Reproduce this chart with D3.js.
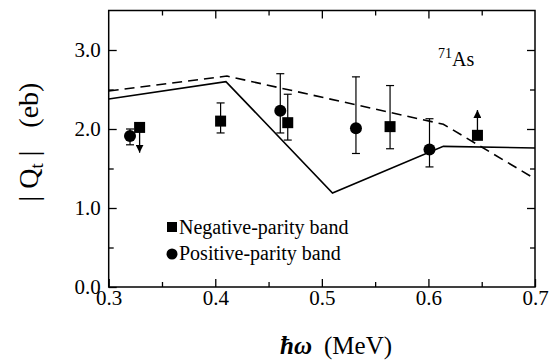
<!DOCTYPE html>
<html>
<head>
<meta charset="utf-8">
<script src="https://cdn.jsdelivr.net/npm/d3@7"></script>
<style>
  body { margin: 0; background: #fff; }
  svg { display: block; }
  svg text { font-family: "Liberation Serif", "Times New Roman", serif; fill: #000; white-space: pre; }
</style>
</head>
<body>
<div id="chart"></div>
<script>
// negative-parity band (squares)
const negX = [0.329, 0.405, 0.468, 0.564, 0.646];
const negY = [2.02, 2.10, 2.08, 2.03, 1.92];
const negLo = [null, 1.95, 1.86, 1.75, null];
const negHi = [null, 2.33, 2.44, 2.55, null];
const negLimit = [1.70, null, null, null, 2.24]; // arrow tips for limits

// positive-parity band (circles)
const posX = [0.320, 0.461, 0.532, 0.601];
const posY = [1.91, 2.23, 2.01, 1.74];
const posLo = [1.80, 1.95, 1.69, 1.52];
const posHi = [2.00, 2.70, 2.66, 2.13];

// calculations
const solidX = [0.3, 0.41, 0.51, 0.614, 0.7];
const solidY = [2.38, 2.60, 1.19, 1.78, 1.76];
const dashX = [0.3, 0.411, 0.614, 0.7];
const dashY = [2.48, 2.67, 2.06, 1.37];

const xTicks = [0.3, 0.4, 0.5, 0.6, 0.7];
const xMinor = [0.35, 0.45, 0.55, 0.65];
const yTicks = [0, 1, 2, 3];
const yMinor = [0.5, 1.5, 2.5];

const width = 550, height = 360;
const mLeft = 108.7, mRight = 535, mTop = 10.5, mBottom = 287;

const x = d3.scaleLinear().domain([0.3, 0.7]).range([mLeft, mRight]);
const y = d3.scaleLinear().domain([0, 3.5]).range([mBottom, mTop]);

const svg = d3.select('#chart').append('svg')
  .attr('width', width).attr('height', height);

svg.append('defs').append('marker')
  .attr('id', 'head')
  .attr('viewBox', '0 0 10 10')
  .attr('refX', 10).attr('refY', 5)
  .attr('markerWidth', 8).attr('markerHeight', 8)
  .attr('markerUnits', 'userSpaceOnUse')
  .attr('orient', 'auto')
  .append('path').attr('d', 'M0,0L10,5L0,10Z').attr('fill', '#000');

// axes (ticks point inward)
function styleAxis(g) {
  g.select('.domain').remove();
  g.selectAll('line').attr('stroke', '#000').attr('stroke-width', 1.3);
  g.selectAll('text').attr('font-size', 21)
    .style('font-family', '"Liberation Serif", "Times New Roman", serif');
}

svg.append('g').attr('transform', `translate(0,${mBottom})`)
  .call(d3.axisBottom(x).tickValues(xTicks).tickSize(-8).tickPadding(3).tickFormat(d3.format('.1f')))
  .call(styleAxis);
svg.append('g').attr('transform', `translate(0,${mBottom})`)
  .call(d3.axisBottom(x).tickValues(xMinor).tickSize(-5).tickFormat(''))
  .call(styleAxis);
svg.append('g').attr('transform', `translate(0,${mTop})`)
  .call(d3.axisTop(x).tickValues(xTicks.slice(1, -1)).tickSize(-8).tickFormat(''))
  .call(styleAxis);
svg.append('g').attr('transform', `translate(0,${mTop})`)
  .call(d3.axisTop(x).tickValues(xMinor).tickSize(-5).tickFormat(''))
  .call(styleAxis);

svg.append('g').attr('transform', `translate(${mLeft},0)`)
  .call(d3.axisLeft(y).tickValues(yTicks).tickSize(-8).tickPadding(8).tickFormat(d3.format('.1f')))
  .call(styleAxis);
svg.append('g').attr('transform', `translate(${mLeft},0)`)
  .call(d3.axisLeft(y).tickValues(yMinor).tickSize(-5).tickFormat(''))
  .call(styleAxis);
svg.append('g').attr('transform', `translate(${mRight},0)`)
  .call(d3.axisRight(y).tickValues(yTicks.slice(1)).tickSize(-8).tickFormat(''))
  .call(styleAxis);
svg.append('g').attr('transform', `translate(${mRight},0)`)
  .call(d3.axisRight(y).tickValues(yMinor).tickSize(-5).tickFormat(''))
  .call(styleAxis);

svg.append('rect')
  .attr('x', mLeft).attr('y', mTop)
  .attr('width', mRight - mLeft).attr('height', mBottom - mTop)
  .attr('fill', 'none').attr('stroke', '#000').attr('stroke-width', 1.5);

// theory curves
const line = d3.line().x(d => x(d[0])).y(d => y(d[1]));
svg.append('path')
  .datum(d3.zip(solidX, solidY))
  .attr('d', line)
  .attr('fill', 'none').attr('stroke', '#000').attr('stroke-width', 1.6);
svg.append('path')
  .datum(d3.zip(dashX, dashY))
  .attr('d', line)
  .attr('fill', 'none').attr('stroke', '#000').attr('stroke-width', 1.6)
  .attr('stroke-dasharray', '10,6');

// error bars
const cap = 4;
function errBars(xs, lo, hi) {
  const d = xs.map((v, i) => ({ x: v, lo: lo[i], hi: hi[i] })).filter(e => e.lo != null);
  const g = svg.append('g').attr('stroke', '#000').attr('stroke-width', 1.2);
  g.selectAll('.bar').data(d).enter().append('line')
    .attr('x1', e => x(e.x)).attr('x2', e => x(e.x))
    .attr('y1', e => y(e.lo)).attr('y2', e => y(e.hi));
  g.selectAll('.capl').data(d).enter().append('line')
    .attr('x1', e => x(e.x) - cap).attr('x2', e => x(e.x) + cap)
    .attr('y1', e => y(e.lo)).attr('y2', e => y(e.lo));
  g.selectAll('.caph').data(d).enter().append('line')
    .attr('x1', e => x(e.x) - cap).attr('x2', e => x(e.x) + cap)
    .attr('y1', e => y(e.hi)).attr('y2', e => y(e.hi));
}
errBars(negX, negLo, negHi);
errBars(posX, posLo, posHi);

// limit arrows
const lims = negX.map((v, i) => ({ x: v, y: negY[i], to: negLimit[i] })).filter(e => e.to != null);
svg.selectAll('.lim').data(lims).enter().append('line')
  .attr('x1', e => x(e.x)).attr('x2', e => x(e.x))
  .attr('y1', e => y(e.y)).attr('y2', e => y(e.to))
  .attr('stroke', '#000').attr('stroke-width', 1.3)
  .attr('marker-end', 'url(#head)');

// markers
const sq = 11;
svg.selectAll('.neg').data(d3.zip(negX, negY)).enter().append('rect')
  .attr('x', d => x(d[0]) - sq / 2).attr('y', d => y(d[1]) - sq / 2)
  .attr('width', sq).attr('height', sq).attr('fill', '#000');
svg.selectAll('.pos').data(d3.zip(posX, posY)).enter().append('circle')
  .attr('cx', d => x(d[0])).attr('cy', d => y(d[1]))
  .attr('r', 6).attr('fill', '#000');

// legend
svg.append('rect').attr('x', 167).attr('y', 222).attr('width', 10).attr('height', 10).attr('fill', '#000');
svg.append('text').attr('x', 179).attr('y', 234).attr('font-size', 20).text('Negative-parity band');
svg.append('circle').attr('cx', 172).attr('cy', 254).attr('r', 5.5).attr('fill', '#000');
svg.append('text').attr('x', 179).attr('y', 260).attr('font-size', 20).text('Positive-parity band');

// nucleus label
const nuc = svg.append('text').attr('x', 438).attr('y', 66).attr('font-size', 20);
nuc.append('tspan').attr('font-size', 14).attr('dy', -8).text('71');
nuc.append('tspan').attr('dy', 8).text('As');

// axis titles
const yl = svg.append('text')
  .attr('transform', 'translate(38,142) rotate(-90)')
  .attr('text-anchor', 'middle').attr('font-size', 28);
yl.append('tspan').text('| Q');
yl.append('tspan').attr('font-size', 19).attr('dy', 5).text('t');
yl.append('tspan').attr('dy', -5).text(' |');
yl.append('tspan').attr('dx', 23).text('(eb)');

const xl = svg.append('text')
  .attr('x', 336).attr('y', 354)
  .attr('text-anchor', 'middle').attr('font-size', 25);
xl.append('tspan').attr('font-style', 'italic').attr('font-weight', 'bold').text('ħ');
xl.append('tspan').attr('font-style', 'italic').attr('font-weight', 'bold').text('ω');
xl.append('tspan').attr('dx', 12).text('(MeV)');
</script>
</body>
</html>
